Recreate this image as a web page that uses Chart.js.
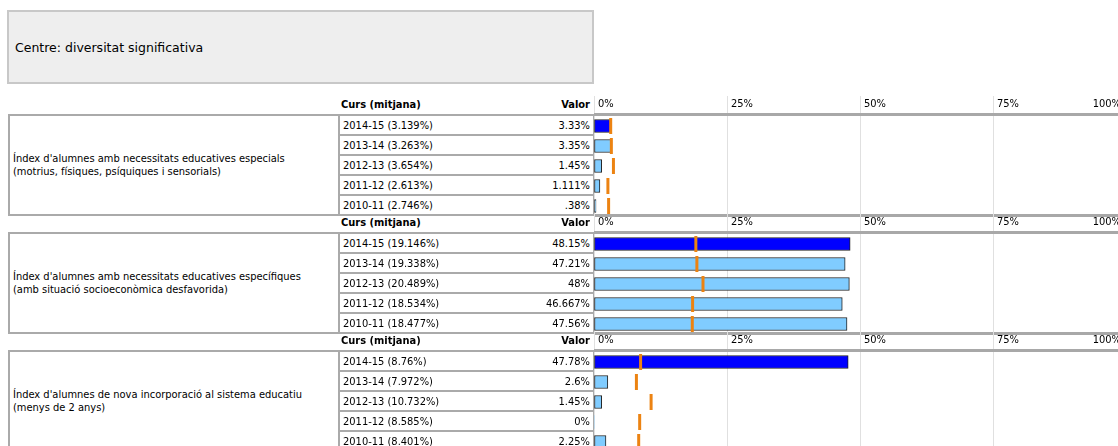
<!DOCTYPE html>
<html>
<head>
<meta charset="utf-8">
<script src="https://cdn.jsdelivr.net/npm/chart.js@4.4.1/dist/chart.umd.min.js"></script>
<style>
body { margin: 0; width: 1118px; height: 446px; overflow: hidden; background: #fff; position: relative;
       font-family: "DejaVu Sans Condensed", "DejaVu Sans", sans-serif; font-size: 11px; color: #000; }
.abs { position: absolute; box-sizing: border-box; }
#title { left: 7px; top: 10px; width: 587px; height: 74px; background: #eee; border: 2px solid #c8c8c8;
         font-family: "DejaVu Sans", sans-serif; font-size: 12.5px; padding-left: 6px; display: flex; align-items: center; }
.hdr { font-weight: bold; height: 17px; line-height: 17px; white-space: nowrap; }
.lbl { border: 2px solid #aaa; padding-left: 3px; display: flex; align-items: center; line-height: 13px; }
.row { border: 2px solid #aaa; display: flex; justify-content: space-between; align-items: center; padding: 0 3px; white-space: nowrap; }
.hline { background: #a8a8a8; height: 3px; }
canvas { position: absolute; }
</style>
</head>
<body>
<div id="title" class="abs">Centre: diversitat significativa</div>
<script>
const courses = ['2014-15', '2013-14', '2012-13', '2011-12', '2010-11'];
const tickValues = [0, 25, 50, 75, 100];

const indicators = [
    ["Índex d'alumnes amb necessitats educatives especials", "(motrius, físiques, psíquiques i sensorials)"],
    ["Índex d'alumnes amb necessitats educatives específiques", "(amb situació socioeconòmica desfavorida)"],
    ["Índex d'alumnes de nova incorporació al sistema educatiu", "(menys de 2 anys)"]
];

// valor del centre i mitjana per curs
const valuesNee = [3.33, 3.35, 1.45, 1.111, 0.38];
const meansNee = [3.139, 3.263, 3.654, 2.613, 2.746];
const valuesNese = [48.15, 47.21, 48, 46.667, 47.56];
const meansNese = [19.146, 19.338, 20.489, 18.534, 18.477];
const valuesNouv = [47.78, 2.6, 1.45, 0, 2.25];
const meansNouv = [8.76, 7.972, 10.732, 8.585, 8.401];

const sections = [
    { label: indicators[0], values: valuesNee, means: meansNee },
    { label: indicators[1], values: valuesNese, means: meansNese },
    { label: indicators[2], values: valuesNouv, means: meansNouv }
];

const FONT = '"DejaVu Sans Condensed", "DejaVu Sans", sans-serif';
const orange = 'rgb(236,131,18)';
const chartLeft = 594;
const viewRight = 1118;

function pct(v) {
    return String(v).replace(/^0\./, '.') + '%';
}

function addDiv(cls, css, html) {
    const d = document.createElement('div');
    d.className = 'abs ' + cls;
    Object.assign(d.style, css);
    if (html !== undefined) d.innerHTML = html;
    document.body.appendChild(d);
    return d;
}

// keep the "100%" label inside the window
const clampLastTick = {
    id: 'clampLastTick',
    beforeDraw(chart) {
        const sc = chart.scales.x;
        const items = sc.getLabelItems();
        const last = items[items.length - 1];
        if (!last) return;
        const ctx = chart.ctx;
        ctx.save();
        ctx.font = last.font.string;
        const w = ctx.measureText(last.label).width;
        ctx.restore();
        const maxX = viewRight - chartLeft - w + 3;
        last.options.translation[0] = Math.min(last.options.translation[0], maxX);
    }
};

sections.forEach((sec, s) => {
    const T = 96 + s * 118;

    addDiv('hdr', { left: '341px', top: T + 'px' }, 'Curs (mitjana)');
    addDiv('hdr', { left: '339px', top: T + 'px', width: '251px', textAlign: 'right' }, 'Valor');

    addDiv('lbl', { left: '8px', top: (T + 18) + 'px', width: '332px', height: '102px' },
        '<div>' + sec.label[0] + '<br>' + sec.label[1] + '</div>');

    courses.forEach((c, i) => {
        addDiv('row', { left: '338px', top: (T + 18 + i * 20) + 'px', width: '257px', height: '22px' },
            '<span>' + c + ' (' + pct(sec.means[i]) + ')</span><span>' + pct(sec.values[i]) + '</span>');
    });

    const cv = document.createElement('canvas');
    cv.width = 532;
    cv.height = 120;
    cv.style.left = chartLeft + 'px';
    cv.style.top = T + 'px';
    document.body.appendChild(cv);

    new Chart(cv.getContext('2d'), {
        data: {
            labels: courses,
            datasets: [
                {
                    type: 'line',
                    label: 'Mitjana',
                    data: sec.means,
                    indexAxis: 'y',
                    showLine: false,
                    pointStyle: 'line',
                    pointRotation: 90,
                    pointRadius: 8,
                    pointBorderWidth: 3,
                    pointBorderColor: orange,
                    borderColor: orange,
                    order: 0
                },
                {
                    type: 'bar',
                    label: 'Valor',
                    data: sec.values,
                    backgroundColor: courses.map((c, i) => i === 0 ? '#0000ff' : '#80ccff'),
                    borderColor: '#222',
                    borderWidth: ctx => ctx.raw === 0 ? 0 : 1,
                    borderSkipped: false,
                    barThickness: 13,
                    order: 1
                }
            ]
        },
        options: {
            indexAxis: 'y',
            responsive: false,
            animation: false,
            events: [],
            layout: { padding: 0, autoPadding: false },
            plugins: { legend: { display: false }, tooltip: { enabled: false } },
            scales: {
                x: {
                    position: 'top',
                    min: 0,
                    max: 100,
                    afterBuildTicks: sc => { sc.ticks = tickValues.map(v => ({ value: v })); },
                    afterFit: sc => { sc.height = 20; sc.paddingLeft = 0; sc.paddingRight = 0; },
                    ticks: {
                        align: 'start',
                        labelOffset: 4,
                        padding: -15,
                        color: '#000',
                        font: { family: FONT, size: 11 },
                        callback: v => v + '%'
                    },
                    grid: { color: '#e0e0e0', tickLength: 20 },
                    border: { display: false }
                },
                y: { display: false }
            }
        },
        plugins: [clampLastTick]
    });

    addDiv('hline', { left: chartLeft + 'px', top: (T + 17) + 'px', width: (viewRight - chartLeft) + 'px' });
    addDiv('hline', { left: chartLeft + 'px', top: (T + 118) + 'px', width: (viewRight - chartLeft) + 'px' });
});
</script>
</body>
</html>
